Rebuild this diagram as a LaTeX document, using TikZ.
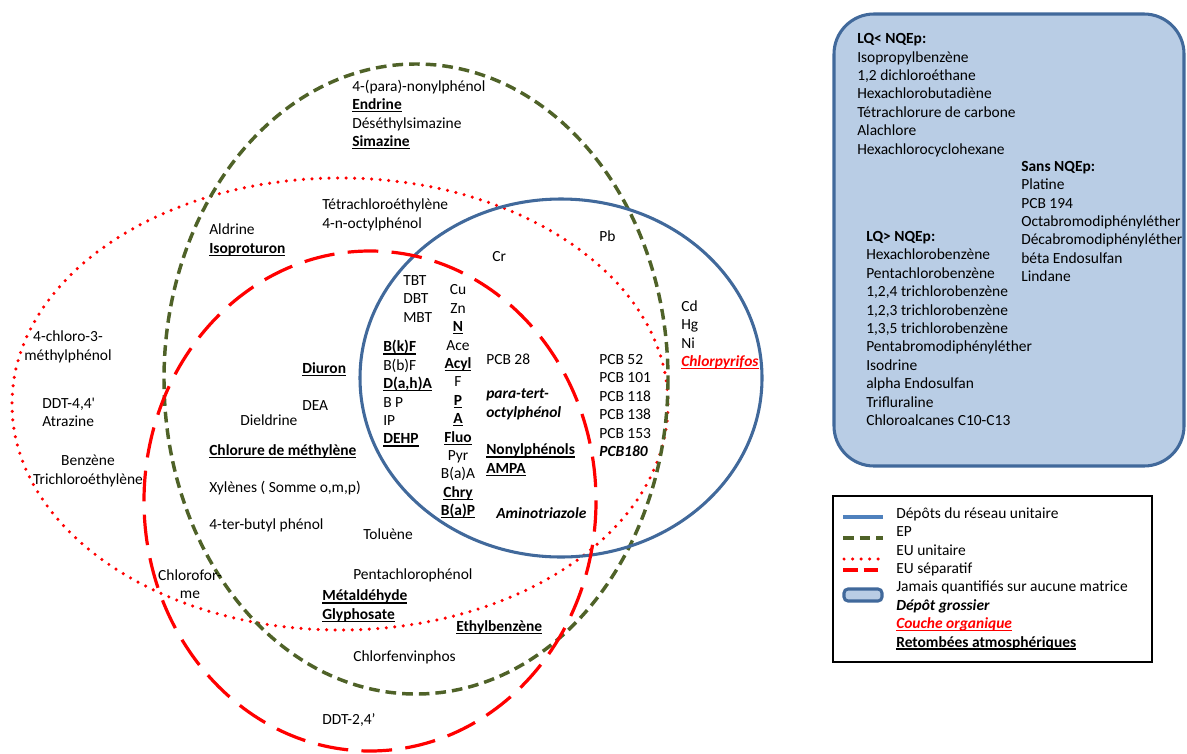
\documentclass[tikz,border=0pt]{standalone}
\usepackage{fontspec}
\setmainfont{Carlito}

\definecolor{bleu}{RGB}{65,105,155}
\definecolor{bleuclair}{RGB}{79,129,189}
\definecolor{vert}{RGB}{79,98,40}
\definecolor{rouge}{RGB}{255,0,0}
\definecolor{fond}{RGB}{185,205,229}

\newsavebox{\ulbox}
\newcommand{\souligne}[1]{\sbox{\ulbox}{#1}\rlap{\rule[-1.9pt]{\wd\ulbox}{0.8pt}}\usebox{\ulbox}}
\newcommand{\ubf}[1]{\souligne{\textbf{#1}}}
\newcommand{\bit}[1]{\textbf{\textit{#1}}}

\begin{document}
\begin{tikzpicture}[x=0.75pt, y=-0.75pt,
  every node/.style={font=\fontsize{11.6}{13.8}\selectfont, inner sep=0pt, align=left, anchor=west},
  reseau/.style={draw=bleu, line width=2.3pt},
  ep/.style={draw=vert, line width=2.6pt, dash pattern=on 8pt off 4.5pt},
  euu/.style={draw=rouge, line width=2.6pt, line cap=round, dash pattern=on 0pt off 6.4pt},
  eus/.style={draw=rouge, line width=2.4pt, dash pattern=on 23pt off 10pt},
  panneau/.style={draw=bleu, fill=fond, line width=2.3pt}]
  \useasboundingbox (0,0) rectangle (1187,753);

  \coordinate (U) at (340,404);
  \coordinate (E) at (416,379);
  \coordinate (R) at (561,378);
  \coordinate (S) at (370,501);

  % les quatre matrices
  \draw[euu] (U) ellipse [x radius=328, y radius=226];
  \draw[ep] (E) ellipse [x radius=252, y radius=315];
  \draw[reseau] (R) ellipse [x radius=201, y radius=179];
  \draw[eus] (S) ellipse [x radius=226, y radius=250];

  \node (nonyl) at (352,114.5) {4-(para)-nonylphénol\\\ubf{Endrine}\\Déséthylsimazine\\\ubf{Simazine}};
  \node (tetra) at (322,215) {Tétrachloroéthylène\\4-n-octylphénol};
  \node (aldr) at (209,240) {Aldrine\\\ubf{Isoproturon}};
  \node (cr) at (492,257) {Cr};
  \node (pb) at (599,236) {Pb};
  \node (cd) at (681,335) {Cd\\Hg\\Ni\\{\color{rouge}\souligne{\bit{Chlorpyrifos}}}};
  \node (pcb) at (599,405.5) {PCB 52\\PCB 101\\PCB 118\\PCB 138\\PCB 153\\\bit{PCB180}};
  \node (tbt) at (403,299) {TBT\\DBT\\MBT};
  \node[anchor=center, align=center] (hap) at (458,401.5) {Cu\\Zn\\\ubf{N}\\Ace\\\ubf{Acyl}\\F\\\ubf{P}\\\ubf{A}\\\ubf{Fluo}\\Pyr\\B(a)A\\\ubf{Chry}\\\ubf{B(a)P}};
  \node (bkf) at (383,393.5) {\ubf{B(k)F}\\B(b)F\\\ubf{D(a,h)A}\\B P\\IP\\\ubf{DEHP}};
  \node (pcbv) at (486,359) {PCB 28};
  \node (para) at (486,404.5) {\bit{para-tert-}\\\bit{octylphénol}};
  \node (nony) at (486,460) {\ubf{Nonylphénols}\\\ubf{AMPA}};
  \node (amino) at (496,513) {\bit{Aminotriazole}};

  \node[anchor=center, align=center] (chloro) at (68,347) {4-chloro-3-\\méthylphénol};
  \node (ddtq) at (42,412.5) {DDT-4,4\textquotesingle\\Atrazine};
  \node[anchor=center, align=center] (benz) at (88,471) {Benzène\\Trichloroéthylène};
  \node (diuron) at (302,369) {\ubf{Diuron}};
  \node (dea) at (302,406) {DEA};
  \node (dield) at (240,420) {Dieldrine};
  \node (chlm) at (209,451) {\ubf{Chlorure de méthylène}};
  \node (xyl) at (209,488) {Xylènes ( Somme o,m,p)};
  \node (butyl) at (209,525) {4-ter-butyl phénol};
  \node[anchor=center, align=center] (chlf) at (190,584) {Chlorofor-\\me};
  \node (tol) at (363,534) {Toluène};
  \node (penta) at (353,575) {Pentachlorophénol};
  \node (meta) at (322,606) {\ubf{Métaldéhyde}\\\ubf{Glyphosate}};
  \node (ethyl) at (456,627) {\ubf{Ethylbenzène}};
  \node (chlfv) at (353,657) {Chlorfenvinphos};
  \node (ddtd) at (322,720) {DDT-2,4’};

  % jamais quantifies
  \draw[panneau, rounded corners=30pt] (834,14) rectangle (1184,466);
  \node (lqinf) at (857,95) {\textbf{LQ< NQEp:}\\Isopropylbenzène\\1,2 dichloroéthane\\Hexachlorobutadiène\\Tétrachlorure de carbone\\Alachlore\\Hexachlorocyclohexane};
  \node (sans) at (1021,221.5) {\textbf{Sans NQEp:}\\Platine\\PCB 194\\Octabromodiphényléther\\Décabromodiphényléther\\béta Endosulfan\\Lindane};
  \node (lqsup) at (866,328.5) {\textbf{LQ> NQEp:}\\Hexachlorobenzène\\Pentachlorobenzène\\1,2,4 trichlorobenzène\\1,2,3 trichlorobenzène\\1,3,5 trichlorobenzène\\Pentabromodiphényléther\\Isodrine\\alpha Endosulfan\\Trifluraline\\Chloroalcanes C10-C13};

  % legende
  \draw[line width=1.5pt] (833,496) rectangle (1152,662);
  \draw[reseau, draw=bleuclair] (843,517) -- (883,517);
  \draw[ep] (843,538) -- (883,538);
  \draw[euu] (844,559) -- (881,559);
  \draw[eus, dash pattern=on 11pt off 4.5pt] (843,570) -- (883,570);
  \draw[panneau, rounded corners=3pt] (844,589) rectangle (882,601);
  \node (leg) at (896,578.5) {Dépôts du réseau unitaire\\EP\\EU unitaire\\EU séparatif\\Jamais quantifiés sur aucune matrice\\\bit{Dépôt grossier}\\{\color{rouge}\souligne{\bit{Couche organique}}}\\\ubf{Retombées atmosphériques}};
\end{tikzpicture}
\end{document}
